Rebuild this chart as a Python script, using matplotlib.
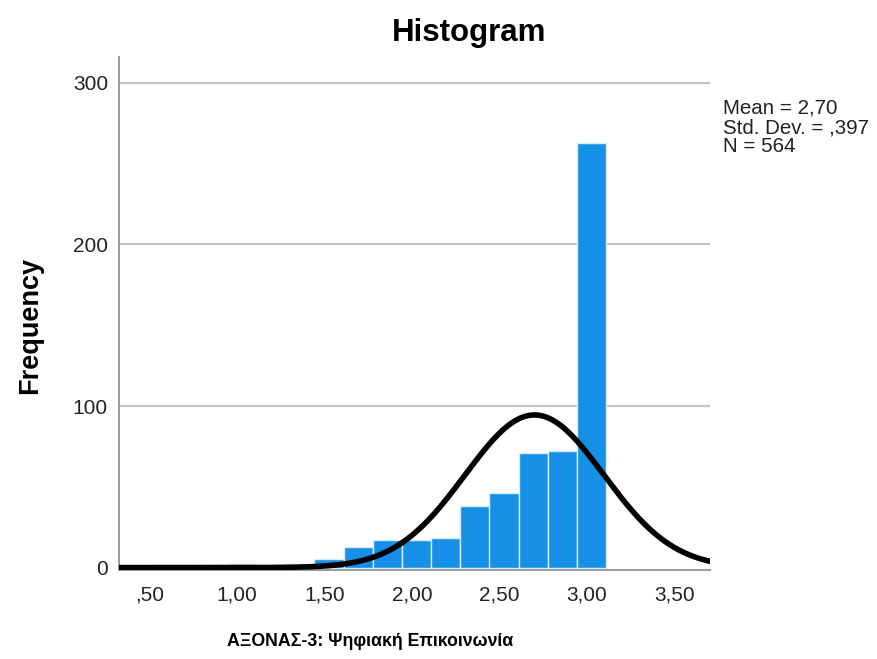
import numpy as np
import matplotlib
matplotlib.use("Agg")
import matplotlib.pyplot as plt

plt.rcParams['font.family'] = ['Liberation Sans', 'DejaVu Sans']

# histogram bins (left edges, width 1/6) and counts
bin_left = [0.943, 1.277, 1.443, 1.610, 1.777, 1.943, 2.110, 2.277, 2.443, 2.610, 2.777, 2.943]
counts = [2, 2, 5, 13, 17, 17, 18, 38, 46, 71, 72, 263]
bin_width = 1 / 6

mean = 2.70
sd = 0.397
n = 564

x_ticks = [0.5, 1.0, 1.5, 2.0, 2.5, 3.0, 3.5]
x_labels = [',50', '1,00', '1,50', '2,00', '2,50', '3,00', '3,50']
y_ticks = [0, 100, 200, 300]

fig = plt.figure(figsize=(8.78, 6.59), dpi=100)
ax = fig.add_axes([119 / 878, 1 - 570 / 659, 591 / 878, 513 / 659])

for y in y_ticks[1:]:
    ax.axhline(y, color='#c4c4c4', lw=1.6, zorder=0)

ax.bar(bin_left, counts, width=bin_width, align='edge', color='#1690e6',
       edgecolor='#d8ecfb', linewidth=1.0, zorder=2)

xs = np.linspace(0.3, 3.75, 400)
curve = n * bin_width * np.exp(-0.5 * ((xs - mean) / sd) ** 2) / (sd * np.sqrt(2 * np.pi))
ax.plot(xs, curve, color='black', lw=4.0, zorder=3, solid_capstyle='butt')

ax.set_xlim(0.326, 3.703)
ax.set_ylim(-1.5, 316)
ax.set_xticks(x_ticks)
ax.set_xticklabels(x_labels)
ax.set_yticks(y_ticks)
ax.tick_params(length=0, labelsize=15, colors='#222222', pad=8)
ax.tick_params(axis='x', pad=11)
for s in ['top', 'right']:
    ax.spines[s].set_visible(False)
for s in ['left', 'bottom']:
    ax.spines[s].set_color('#9a9a9a')
    ax.spines[s].set_linewidth(1.4)

fig.text(469 / 878, 1 - 33 / 659, 'Histogram', ha='center', va='center', fontsize=22.5,
         fontweight='bold')
fig.text(30 / 878, 1 - 325 / 659, 'Frequency', ha='center', va='center', rotation=90,
         fontsize=19.5, fontweight='bold')
fig.text(370 / 878, 1 - 641 / 659, 'ΑΞΟΝΑΣ-3: Ψηφιακή Επικοινωνία', ha='center', va='center',
         fontsize=12.8, fontweight='bold')
fig.text(723 / 878, 1 - 99 / 659, 'Mean = 2,70\nStd. Dev. = ,397\nN = 564', ha='left', va='top',
         fontsize=14.8, linespacing=1.0, color='#222222')

fig.savefig('out.png', dpi=100)
